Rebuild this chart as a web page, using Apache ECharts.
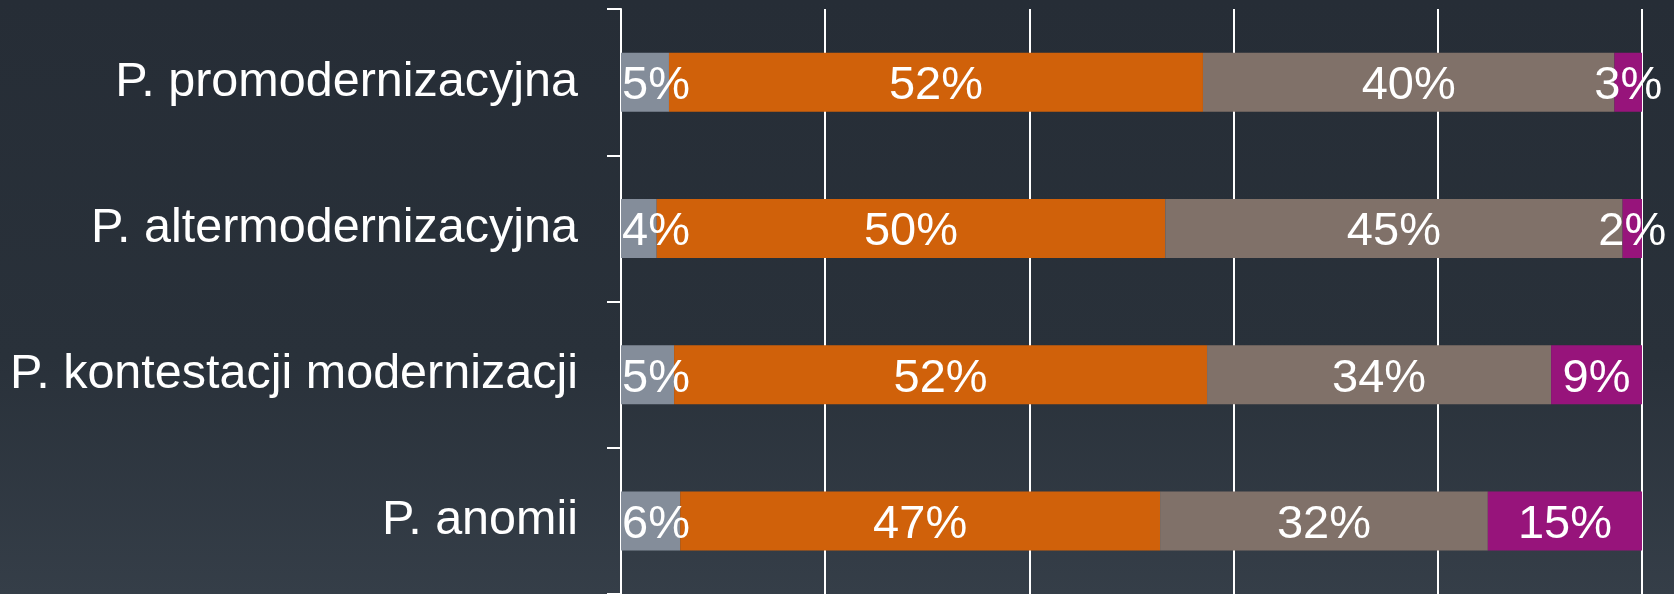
<!DOCTYPE html>
<html>
<head>
<meta charset="utf-8">
<script src="https://cdn.jsdelivr.net/npm/echarts@6/dist/echarts.min.js"></script>
<style>
  html, body { margin: 0; padding: 0; }
  #chart { width: 1674px; height: 594px; }
</style>
</head>
<body>
<div id="chart"></div>
<script>
  // kategorie (od góry)
  const categories = ['P. promodernizacyjna', 'P. altermodernizacyjna', 'P. kontestacji modernizacji', 'P. anomii'];
  // udziały (%)
  const seriesA = [4.7, 3.5, 5.2, 5.8];
  const seriesB = [52.3, 49.8, 52.2, 47.0];
  const seriesC = [40.3, 44.8, 33.7, 32.1];
  const seriesD = [2.7, 1.9, 8.9, 15.1];
  const colors = ['#848d9a', '#d0610a', '#807169', '#97147b'];

  const chart = echarts.init(document.getElementById('chart'));
  const font = 'Liberation Sans, Arial, sans-serif';

  function makeSeries (name, data, color, pos) {
    return {
      name: name,
      type: 'bar',
      stack: 'all',
      data: data,
      barWidth: 59,
      itemStyle: { color: color },
      label: {
        show: true,
        position: pos,
        distance: 1,
        offset: [0, 4],
        color: '#ffffff',
        fontFamily: font,
        fontSize: 47,
        formatter: p => Math.round(p.value) + '%'
      }
    };
  }

  chart.setOption({
    backgroundColor: new echarts.graphic.LinearGradient(0, 0, 0, 1, [
      { offset: 0, color: '#262d36' },
      { offset: 0.6, color: '#29313a' },
      { offset: 1, color: '#353e48' }
    ]),
    animation: false,
    grid: { left: 621, right: 32, top: 9, height: 586 },
    xAxis: {
      type: 'value',
      min: 0,
      max: 100,
      interval: 20,
      axisLabel: { show: false },
      axisLine: { show: false },
      axisTick: { show: false },
      splitLine: { show: true, lineStyle: { color: '#ffffff', width: 2 } }
    },
    yAxis: {
      type: 'category',
      inverse: true,
      data: categories,
      axisLine: { show: true, lineStyle: { color: '#ffffff', width: 2 } },
      axisTick: { show: true, length: 14, lineStyle: { color: '#ffffff', width: 2 } },
      axisLabel: { color: '#ffffff', fontFamily: font, fontSize: 48.5, margin: 43, padding: [12, 0, 0, 0] }
    },
    series: [
      makeSeries('a', seriesA, colors[0], 'insideLeft'),
      makeSeries('b', seriesB, colors[1], 'inside'),
      makeSeries('c', seriesC, colors[2], 'inside'),
      makeSeries('d', seriesD, colors[3], 'inside')
    ]
  });
</script>
</body>
</html>
